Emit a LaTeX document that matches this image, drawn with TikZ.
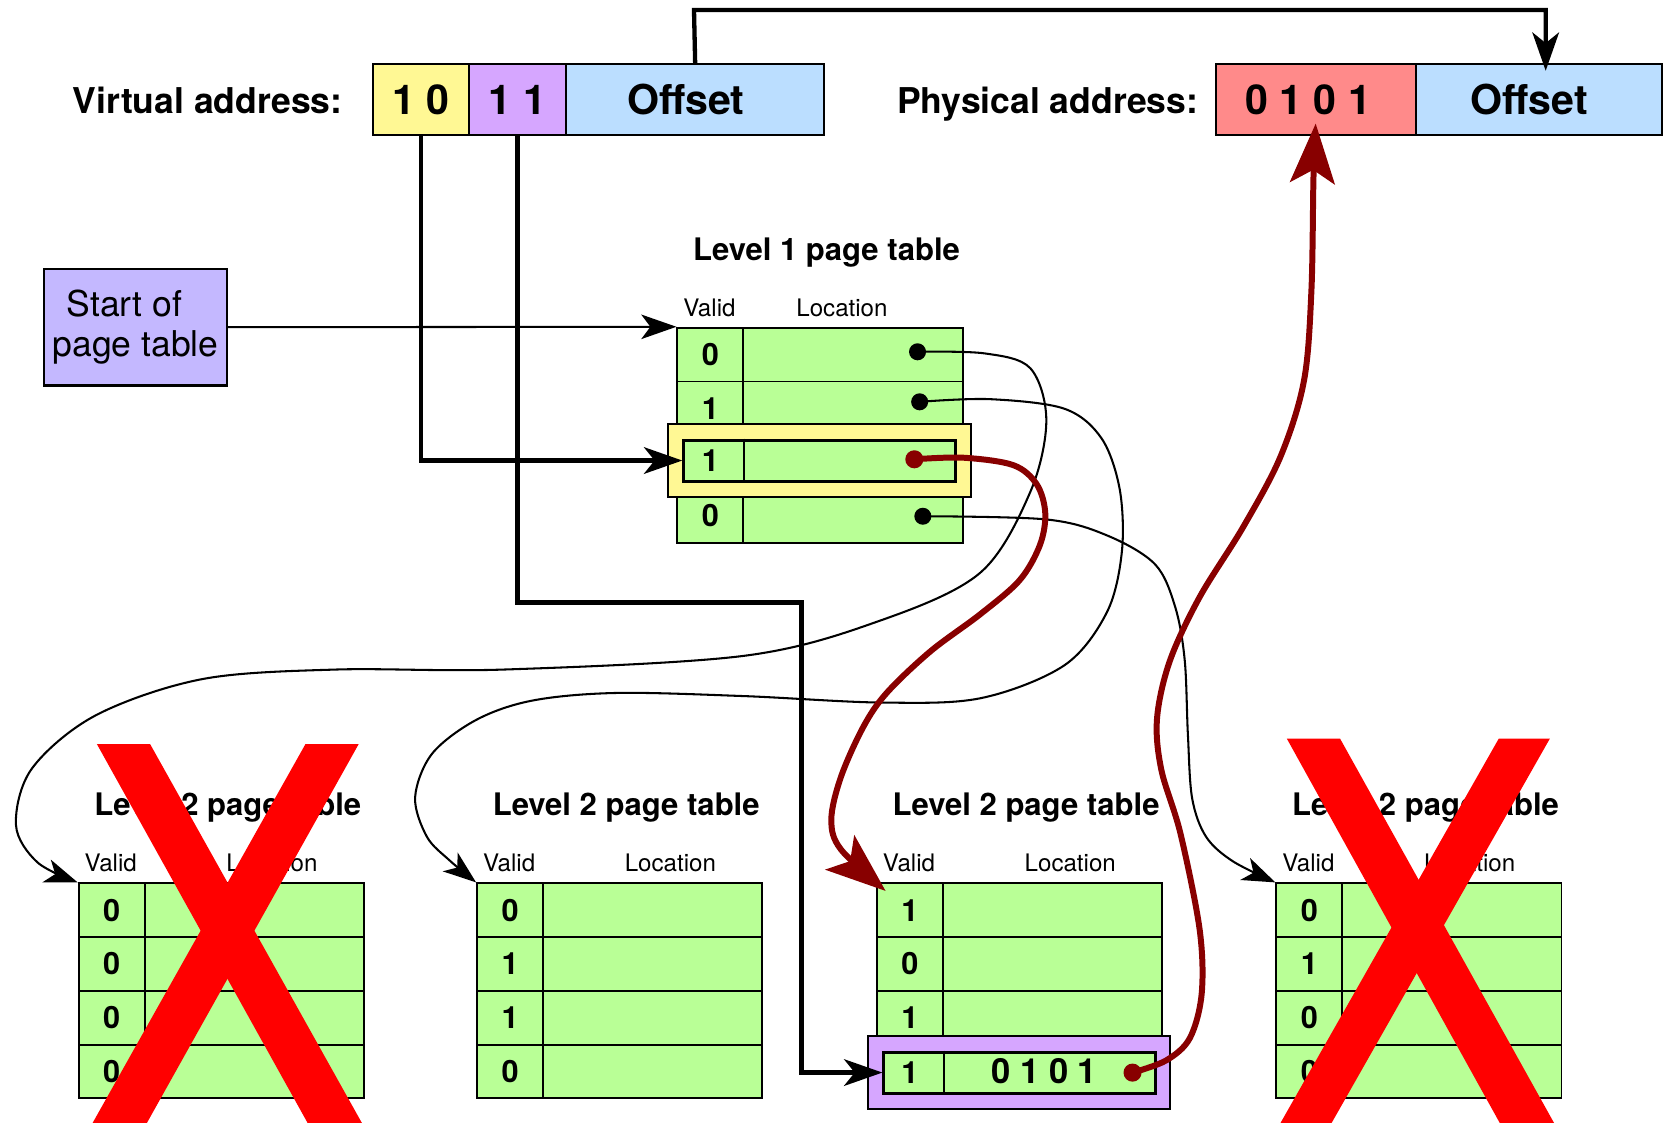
\documentclass[tikz,border=0pt]{standalone}
\usepackage{fontspec}
\setmainfont{TeX Gyre Heros}
\usetikzlibrary{arrows.meta,calc}

\definecolor{tgreen}{HTML}{B9FF96}
\definecolor{cyellow}{HTML}{FFF894}
\definecolor{cpurple}{HTML}{D6A6FF}
\definecolor{cblue}{HTML}{BBDEFF}
\definecolor{cred}{HTML}{FF8A8A}
\definecolor{cstart}{HTML}{C4B8FF}
\definecolor{pathred}{HTML}{880000}
\definecolor{xred}{HTML}{FF0000}

\newcommand\addrfont{\fontsize{19}{22}\selectfont\bfseries}
\newcommand\cellfont{\fontsize{22}{26}\selectfont\bfseries}
\newcommand\titlefont{\fontsize{16.6}{19}\selectfont\bfseries}
\newcommand\headfont{\fontsize{12.9}{15}\selectfont}
\newcommand\bitfont{\fontsize{16.4}{19}\selectfont\bfseries}
\newcommand\framefont{\fontsize{18.5}{22}\selectfont\bfseries}
\newcommand\startfont{\fontsize{19}{21.5}\selectfont}

\tikzset{
  addr/.style={draw, line width=1.1pt, anchor=north west, minimum height=1.334cm, inner sep=0pt, font=\cellfont},
  vcell/.style={draw, line width=1pt, fill=tgreen, anchor=north west, minimum width=1.24cm, minimum height=1.01cm, inner sep=0pt, font=\bitfont},
  lcell/.style={draw, line width=1pt, fill=tgreen, anchor=north west, minimum width=4.12cm, minimum height=1.01cm, inner sep=0pt},
  tabtitle/.style={anchor=base, inner sep=0pt, font=\titlefont},
  colhead/.style={anchor=base, inner sep=0pt, font=\headfont},
  hlouter/.style={draw, line width=1.1pt, anchor=north west, minimum width=5.68cm, minimum height=1.37cm, inner sep=0pt},
  hlinner/.style={draw, line width=1.6pt, fill=tgreen, anchor=north west, minimum width=5.11cm, minimum height=0.77cm, inner sep=0pt},
  bitdot/.style={circle, fill=black, inner sep=0pt, minimum size=0.32cm},
  reddot/.style={circle, fill=pathred, inner sep=0pt, minimum size=0.34cm},
  busline/.style={line width=2.3pt},
  wireline/.style={line width=1.1pt},
  redpath/.style={line width=3.2pt, draw=pathred},
  bustip/.style={-{Stealth[length=0.72cm, width=0.5cm, inset=0.2cm]}},
  wiretip/.style={-{Stealth[length=0.62cm, width=0.45cm, inset=0.17cm]}},
  redtip/.style={-{Stealth[length=1.12cm, width=0.84cm, inset=0.25cm]}},
}

% one page table: name, left, top, title, x of "Location", four valid bits
\newcommand\pagetab[9]{%
  \node[tabtitle] (#1-title) at ({#2+141},{#3-62.5}) {#4};
  \node[colhead] (#1-hv) at ({#2+31},{#3-10}) {Valid};
  \node[colhead] (#1-hl) at ({#2+#5},{#3-10}) {Location};
  \foreach \bit [count=\k] in {#6,#7,#8,#9} {
    \node[vcell] (#1-v\k) at (#2,{#3+50.5*(\k-1)}) {\bit};
    \node[lcell] (#1-l\k) at ({#2+62},{#3+50.5*(\k-1)}) {};
  }
}

\begin{document}
\begin{tikzpicture}[x=0.02cm, y=-0.02cm]
\useasboundingbox (0,0) rectangle (1568,1055);

% ---- addresses
\node[anchor=base east, inner sep=0pt, font=\addrfont] (vlabel) at (322,106.5) {Virtual address:};
\node[addr, fill=cyellow, minimum width=1.792cm] (v1) at (349.7,59.5) {1 0};
\node[addr, fill=cpurple, minimum width=1.832cm] (v2) at (439.3,59.5) {1 1};
\node[addr, fill=cblue, minimum width=4.85cm] (v3) at (530.9,59.5) {Offset\hspace*{10pt}};

\node[anchor=base east, inner sep=0pt, font=\addrfont] (plabel) at (1126,106.5) {Physical address:};
\node[addr, fill=cred, minimum width=3.764cm] (p1) at (1141,59.5) {0 1 0 1\hspace*{8pt}};
\node[addr, fill=cblue, minimum width=4.62cm] (p2) at (1329.2,59.5) {Offset\hspace*{10pt}};

% ---- page table base register
\node[draw, line width=1.1pt, fill=cstart, minimum width=3.44cm, minimum height=2.19cm,
      inner sep=0pt, align=center, font=\startfont] (start) at (127.4,307.4)
      {Start of\hspace*{12pt}\\page table};

% ---- page tables
\pagetab{L1}{635.5}{307}{Level 1 page table}{155.5}{0}{1}{}{0}
\pagetab{A}{73}{829}{Level 2 page table}{182.5}{0}{0}{0}{0}
\pagetab{B}{447.3}{829}{Level 2 page table}{182.5}{0}{1}{1}{0}
\pagetab{C}{823}{829}{Level 2 page table}{182.5}{1}{0}{1}{}
\pagetab{D}{1198.2}{829}{Level 2 page table}{182.5}{0}{1}{0}{0}

% selected level 1 entry
\node[hlouter, fill=cyellow] (L1-sel) at (627,397.5) {};
\node[hlinner] (L1-in) at (641,412) {};
\draw[line width=1pt] (L1-v3.north east |- L1-in.north) -- (L1-v3.north east |- L1-in.south);
\node[font=\bitfont, inner sep=0pt] (L1-bit) at (L1-v3.center |- L1-in.center) {1};

% selected level 2 entry
\node[hlouter, fill=cpurple] (C-sel) at (814.5,972) {};
\node[hlinner] (C-in) at (829,987) {};
\draw[line width=1pt] (C-v4.north east |- C-in.north) -- (C-v4.north east |- C-in.south);
\node[font=\bitfont, inner sep=0pt] (C-bit) at (C-v4.center |- C-in.center) {1};
\node[font=\framefont, inner sep=0pt] (C-frame) at (981,1006.3) {0 1 0 1};

% pointers held in the level 1 table
\node[bitdot] (L1-d1) at (862,330.5) {};
\node[bitdot] (L1-d2) at (864,377.5) {};
\node[reddot] (L1-d3) at (859,431.5) {};
\node[bitdot] (L1-d4) at (867,485) {};
\node[reddot] (C-d4) at (1064,1007.7) {};

% ---- index and offset buses
\coordinate (ofs-top) at (652,9.4);
\coordinate (idx2-bend) at (753,566);
\draw[busline, bustip] (v3.north) -- (ofs-top) -| ([xshift=0.13cm,yshift=-0.14cm]p2.north);
\draw[busline, bustip] (v1.south) |- (L1-in.west);
\draw[busline, bustip] (v2.south) |- (idx2-bend) |- (C-in.west);
\draw[wireline, -{Stealth[length=0.66cm, width=0.46cm, inset=0.17cm]}] (start.east) -- (L1-v1.north west);

% ---- level 1 pointers to level 2 tables
\draw[wireline, wiretip] plot[smooth, tension=0.55] coordinates {(L1-d1.center) (925,332) (968,346) (983,395) (968,462) (921,538) (827,583) (700,616) (474,629) (316,629) (190,638) (90,672) (30,722) (15,775) (35,810) (A-v1.north west)};
\draw[wireline, wiretip] plot[smooth, tension=0.55] coordinates {(L1-d2.center) (930,375) (1000,384) (1035,412) (1052,460) (1054,518) (1040,575) (1000,625) (921,656) (827,660) (700,654) (580,651) (501,658) (448,676) (406,708) (390,749) (401,786) (422,808) (B-v1.north west)};
\draw[wireline, wiretip] plot[smooth, tension=0.55] coordinates {(L1-d4.center) (983,488) (1040,503) (1085,530) (1104,570) (1113,620) (1116,690) (1120,750) (1133,786) (1158,809) (D-v1.north west)};

% ---- the walk that is taken
\draw[redpath, redtip] plot[smooth, tension=0.55] coordinates {(L1-d3.center) (905,430) (952,437) (974,455) (982,482) (977,512) (958,545) (921,577) (874,612) (833,651) (811,683) (790,730) (781,770) (790,798) ([xshift=0.18cm,yshift=-0.16cm]C-v1.north west)};
\draw[redpath, redtip] plot[smooth, tension=0.55] coordinates {(C-d4.center) (1096,996) (1118,975) (1129,933) (1127,873) (1109,783) (1091,723) (1087,675) (1099,621) (1127,561) (1168,495) (1203,429) (1225,358) (1232,274) (1234,166) ([yshift=0.24cm]p1.south)};

% ---- invalid level 2 tables crossed out
\fill[xred] (91,699) -- (141,699) -- (340,1055) -- (289,1055) -- cycle;
\fill[xred] (287,699) -- (337,699) -- (138,1055) -- (87,1055) -- cycle;
\fill[xred] (1209,694) -- (1259,694) -- (1460,1055) -- (1409,1055) -- cycle;
\fill[xred] (1408,694) -- (1456,694) -- (1251,1055) -- (1203,1055) -- cycle;
\end{tikzpicture}
\end{document}
